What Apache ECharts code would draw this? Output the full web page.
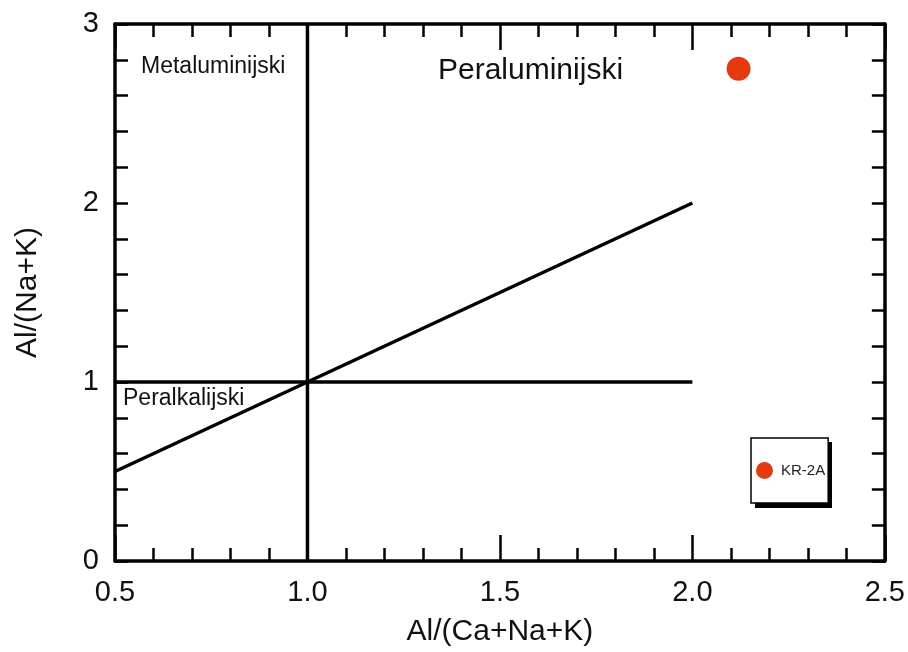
<!DOCTYPE html>
<html>
<head>
<meta charset="utf-8">
<script src="https://cdn.jsdelivr.net/npm/echarts@6/dist/echarts.min.js"></script>
<style>html,body{margin:0;padding:0;background:#fff}#c{width:908px;height:652px}</style>
</head>
<body>
<div id="c"></div>
<script>
// Data
var xTickLabels = ['0.5', '1.0', '1.5', '2.0', '2.5'];
var yTickLabels = ['0', '1', '2', '3'];
var diagonalLine = [[0.5, 0.5], [2.0, 2.0]];
var horizontalLine = [[0.5, 1.0], [2.0, 1.0]];
var verticalLine = [[1.0, 0.0], [1.0, 3.0]];
var sampleName = 'KR-2A';
var samplePoints = [[2.12, 2.75]];
var regionLabels = ['Metaluminijski', 'Peraluminijski', 'Peralkalijski'];

var FONT = '"Liberation Sans", Arial, sans-serif';
var chart = echarts.init(document.getElementById('c'), null, {renderer: 'canvas'});

function xAxisDef(pos, showLabels) {
  return {
    type: 'value', position: pos, min: 0.5, max: 2.5, interval: 0.5,
    name: showLabels ? 'Al/(Ca+Na+K)' : '', nameLocation: 'middle', nameGap: 56,
    nameTextStyle: {fontFamily: FONT, fontSize: 30, color: '#111'},
    axisLine: {show: true, onZero: false, lineStyle: {color: '#000', width: 3.5}},
    axisTick: {show: true, inside: true, length: 26, lineStyle: {color: '#000', width: 2.5}},
    minorTick: {show: true, splitNumber: 5, length: 13, lineStyle: {color: '#000', width: 2.5}},
    axisLabel: {show: showLabels, fontFamily: FONT, fontSize: 29, color: '#111', margin: 17,
      formatter: function (v) { var i = Math.round((v - 0.5) / 0.5); return xTickLabels[i]; }},
    splitLine: {show: false}, minorSplitLine: {show: false}
  };
}
function yAxisDef(pos, showLabels) {
  return {
    type: 'value', position: pos, min: 0, max: 3, interval: 1,
    name: showLabels ? 'Al/(Na+K)' : '', nameLocation: 'middle', nameGap: 72,
    nameTextStyle: {fontFamily: FONT, fontSize: 30, color: '#111'},
    axisLine: {show: true, onZero: false, lineStyle: {color: '#000', width: 3.5}},
    axisTick: {show: true, inside: true, length: 13, lineStyle: {color: '#000', width: 2.5}},
    minorTick: {show: true, splitNumber: 5, length: 13, lineStyle: {color: '#000', width: 2.5}},
    axisLabel: {show: showLabels, fontFamily: FONT, fontSize: 29, color: '#111', margin: 16,
      formatter: function (v) { return yTickLabels[Math.round(v)]; }},
    splitLine: {show: false}, minorSplitLine: {show: false}
  };
}

function lineSeries(data) {
  return {
    type: 'line', data: data, symbol: 'none', silent: true,
    lineStyle: {color: '#000', width: 3.5}, animation: false, legendHoverLink: false
  };
}

var option = {
  backgroundColor: '#fff',
  animation: false,
  grid: {left: 115, right: 23, top: 24, bottom: 90, containLabel: false},
  xAxis: [xAxisDef('bottom', true), xAxisDef('top', false)],
  yAxis: [yAxisDef('left', true), yAxisDef('right', false)],
  legend: {
    data: [sampleName],
    left: 751, top: 438,
    orient: 'vertical',
    padding: [24, 3, 24, 5],
    itemWidth: 17, itemHeight: 17,
    icon: 'circle',
    backgroundColor: '#fff',
    borderColor: '#000', borderWidth: 1.5,
    textStyle: {fontFamily: FONT, fontSize: 15, color: '#222', padding: [0, 0, 0, 3]},
    z: 5
  },
  graphic: [
    {type: 'rect', left: 755, top: 442, z: 1, shape: {width: 77, height: 66}, style: {fill: '#000'}},
    {type: 'text', left: 141, top: 55, style: {text: regionLabels[0], font: '23px ' + FONT, fill: '#111'}},
    {type: 'text', left: 438, top: 56, style: {text: regionLabels[1], font: '30px ' + FONT, fill: '#111'}},
    {type: 'text', left: 123, top: 387, style: {text: regionLabels[2], font: '23px ' + FONT, fill: '#111'}}
  ],
  series: [
    lineSeries(verticalLine),
    lineSeries(horizontalLine),
    lineSeries(diagonalLine),
    {
      name: sampleName, type: 'scatter', data: samplePoints,
      symbol: 'circle', symbolSize: 24,
      itemStyle: {color: '#e33a10', opacity: 1}
    }
  ]
};
chart.setOption(option);
</script>
</body>
</html>
